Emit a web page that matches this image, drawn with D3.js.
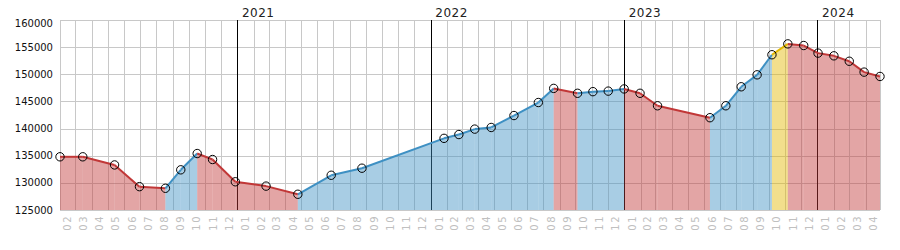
<!DOCTYPE html>
<html>
<head>
<meta charset="utf-8">
<script src="https://cdn.jsdelivr.net/npm/d3@7"></script>
<style>
  html, body { margin: 0; padding: 0; background: #fff; }
  svg { display: block; }
</style>
</head>
<body>
<script>
// ---- data ----
const dates = [
  "2020-02-01","2020-03-15","2020-05-14","2020-06-30","2020-08-18","2020-09-16","2020-10-17",
  "2020-11-15","2020-12-28","2021-02-24","2021-04-25","2021-06-27","2021-08-24","2022-01-26",
  "2022-02-23","2022-03-25","2022-04-25","2022-06-07","2022-07-23","2022-08-21","2022-10-05",
  "2022-11-03","2022-12-02","2023-01-01","2023-01-31","2023-03-05","2023-06-12","2023-07-12",
  "2023-08-10","2023-09-09","2023-10-07","2023-11-06","2023-12-06","2024-01-02","2024-02-01",
  "2024-03-01","2024-03-29","2024-04-28"
];
const values = [
  134800, 134800, 133300, 129300, 129000, 132400, 135400,
  134300, 130200, 129400, 127900, 131400, 132700, 138200,
  138900, 139900, 140200, 142400, 144800, 147400, 146500,
  146800, 146900, 147300, 146500, 144200, 142000, 144200,
  147700, 149900, 153600, 155600, 155300, 153900, 153400,
  152400, 150400, 149600
];
// state of each segment between consecutive points
const segmentStates = [
  "down","down","down","down","up","up",
  "down","down","down","down","up","up","up",
  "up","up","up","up","up","up","down",
  "up","up","up","down","down","down","up",
  "up","up","up","peak","down","down","down",
  "down","down","down"
];
const yTicks = [125000, 130000, 135000, 140000, 145000, 150000, 155000, 160000];
const yearLabels = ["2021", "2022", "2023", "2024"];

const stateColors = { down: "#c13737", up: "#3e90c3", peak: "#e2b800" };

(function () {
// ---- layout ----
const W = 900, H = 250;
const pLeft = 60, pRight = 880, pTop = 20, pBottom = 210;

const parse = d3.utcParse("%Y-%m-%d");
const pts = dates.map((d, i) => ({ date: parse(d), value: values[i] }));

const x = d3.scaleUtc().domain(d3.extent(pts, d => d.date)).range([pLeft, pRight]);
const y = d3.scaleLinear().domain([d3.min(yTicks), d3.max(yTicks)]).range([pBottom, pTop]);

const svg = d3.select("body").append("svg").attr("width", W).attr("height", H);

// grid
const grid = svg.append("g").attr("shape-rendering", "crispEdges");
grid.selectAll("line.h").data(yTicks).join("line")
  .attr("x1", pLeft).attr("x2", pRight)
  .attr("y1", d => Math.round(y(d)) + 0.5).attr("y2", d => Math.round(y(d)) + 0.5)
  .attr("stroke", "#c8c8c8");

const [d0, d1] = x.domain();
const monthStarts = d3.utcMonth.range(d0, d1);
grid.selectAll("line.v").data(monthStarts).join("line")
  .attr("x1", d => Math.round(x(d)) + 0.5).attr("x2", d => Math.round(x(d)) + 0.5)
  .attr("y1", pTop).attr("y2", pBottom)
  .attr("stroke", "#c8c8c8");
grid.append("line")
  .attr("x1", pRight + 0.5).attr("x2", pRight + 0.5).attr("y1", pTop).attr("y2", pBottom)
  .attr("stroke", "#c8c8c8");

// year lines
const yearStarts = yearLabels.map(s => parse(s + "-01-01"));
const yl = svg.append("g").attr("shape-rendering", "crispEdges");
yl.selectAll("line").data(yearStarts).join("line")
  .attr("x1", d => Math.round(x(d)) + 0.5).attr("x2", d => Math.round(x(d)) + 0.5)
  .attr("y1", pTop).attr("y2", pBottom)
  .attr("stroke", "#000");

// fills per segment
const segs = d3.pairs(pts).map((p, i) => ({ a: p[0], b: p[1], state: segmentStates[i] }));
const area = d3.area().x(d => x(d.date)).y0(pBottom).y1(d => y(d.value));
const line = d3.line().x(d => x(d.date)).y(d => y(d.value));

svg.append("g").selectAll("path").data(segs).join("path")
  .attr("d", s => area([s.a, s.b]))
  .attr("fill", s => stateColors[s.state])
  .attr("fill-opacity", 0.45);

svg.append("g").selectAll("path").data(segs).join("path")
  .attr("d", s => line([s.a, s.b]))
  .attr("fill", "none")
  .attr("stroke", s => stateColors[s.state])
  .attr("stroke-width", 2);

// markers
svg.append("g").selectAll("circle").data(pts).join("circle")
  .attr("cx", d => x(d.date)).attr("cy", d => y(d.value)).attr("r", 4.2)
  .attr("fill", "none").attr("stroke", "#000").attr("stroke-width", 1);

// y labels
svg.append("g").selectAll("text").data(yTicks).join("text")
  .attr("x", 53)
  .attr("y", d => Math.max(y(d), 23))
  .attr("dy", "0.35em")
  .attr("text-anchor", "end")
  .attr("font-family", "DejaVu Sans, Verdana, sans-serif")
  .attr("font-size", 10)
  .attr("fill", "#111")
  .text(d => d);

// year labels
svg.append("g").selectAll("text").data(yearStarts).join("text")
  .attr("x", d => x(d) + 4.5)
  .attr("y", 17)
  .attr("font-family", "DejaVu Sans, Verdana, sans-serif")
  .attr("font-size", 12)
  .attr("letter-spacing", 0.5)
  .attr("fill", "#222")
  .text((d, i) => yearLabels[i]);

// month labels
const fmtMonth = d3.utcFormat("%m");
svg.append("g").selectAll("text").data(monthStarts).join("text")
  .attr("transform", d => {
    const mid = (x(d) + x(d3.utcMonth.offset(d, 1))) / 2;
    return `translate(${mid},215) rotate(-90)`;
  })
  .attr("dy", "0.35em")
  .attr("text-anchor", "end")
  .attr("font-family", "DejaVu Sans, Verdana, sans-serif")
  .attr("font-size", 10)
  .attr("letter-spacing", 1.5)
  .attr("fill", "#c0c0c0")
  .text(d => fmtMonth(d));
})();
</script>
</body>
</html>
